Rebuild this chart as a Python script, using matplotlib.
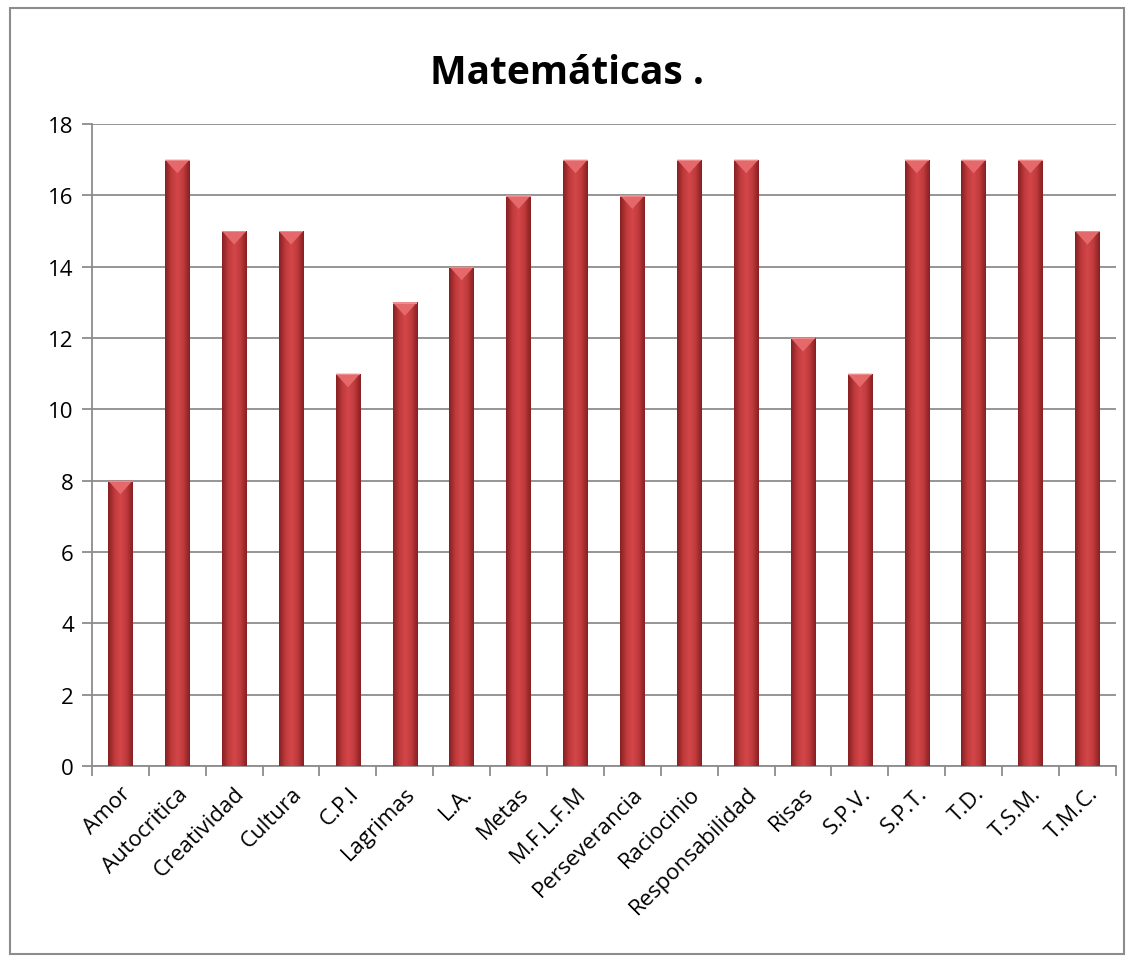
import numpy as np
import matplotlib
matplotlib.use('Agg')
import matplotlib.pyplot as plt
from matplotlib.colors import LinearSegmentedColormap
from matplotlib.patches import Polygon, Rectangle

# Data
categories = ['Amor', 'Autocritica', 'Creatividad', 'Cultura', 'C.P.I', 'Lagrimas', 'L.A.',
              'Metas', 'M.F.L.F.M', 'Perseverancia', 'Raciocinio', 'Responsabilidad',
              'Risas', 'S.P.V.', 'S.P.T.', 'T.D.', 'T.S.M.', 'T.M.C.']
values = [8, 17, 15, 15, 11, 13, 14, 16, 17, 16, 17, 17, 12, 11, 17, 17, 17, 15]
y_ticks = [0, 2, 4, 6, 8, 10, 12, 14, 16, 18]

plt.rcParams['font.family'] = ['Open Sans', 'DejaVu Sans']

fig = plt.figure(figsize=(11.34, 9.62), dpi=100)
ax = fig.add_axes([0.0811, 0.2027, 0.9029, 0.6673])

x = np.arange(len(categories))
bar_w = 0.43
bars = ax.bar(x, values, width=bar_w, color='#C0393B', edgecolor='none', zorder=2)

# horizontal shading across each bar
shade = LinearSegmentedColormap.from_list('shade', ['#862022', '#BF3A3C', '#D4464A', '#BF3A3C', '#862022'])
grad = np.linspace(0, 1, 64).reshape(1, -1)
for b in bars:
    x0, w, h = b.get_x(), b.get_width(), b.get_height()
    im = ax.imshow(grad, cmap=shade, aspect='auto', extent=(x0, x0 + w, 0, h), zorder=3)
    im.set_clip_path(b)
    # bevel at the top of the bar
    bev = 0.38
    ax.add_patch(Polygon([(x0, h), (x0 + w, h), (x0 + w / 2, h - bev)], closed=True,
                         facecolor='#E5686A', edgecolor='none', zorder=4))
    ax.add_patch(Rectangle((x0, h - 0.04), w, 0.04, facecolor='#F08A8B', edgecolor='none', zorder=4))

ax.set_xlim(-0.5, len(categories) - 0.5)
ax.set_ylim(0, 18)
ax.set_yticks(y_ticks)
ax.set_yticklabels([str(t) for t in y_ticks], fontsize=16)
ax.yaxis.grid(True, color='#8C8C8C', linewidth=1.3, zorder=0)
ax.set_axisbelow(True)

ax.set_xticks(x)
ax.set_xticklabels(categories, rotation=45, ha='right', rotation_mode='anchor', fontsize=16)
ax.set_xticks(np.arange(-0.5, len(categories), 1), minor=True)
ax.tick_params(axis='x', which='major', length=0, pad=12)
ax.tick_params(axis='x', which='minor', length=7, color='#8C8C8C', width=1.3, direction='out')
ax.tick_params(axis='y', length=7, color='#8C8C8C', width=1.3, direction='out', pad=6)

for side in ['top', 'right']:
    ax.spines[side].set_visible(False)
for side in ['left', 'bottom']:
    ax.spines[side].set_color('#8C8C8C')
    ax.spines[side].set_linewidth(1.3)

fig.text(0.5, 0.924, 'Matemáticas .', ha='center', va='center', fontsize=28, fontweight='bold')

# chart border
fig.add_artist(Rectangle((0.009, 0.007), 0.982, 0.984, transform=fig.transFigure,
                         fill=False, edgecolor='#8C8C8C', linewidth=1.5))

fig.savefig('out.png', dpi=100)
